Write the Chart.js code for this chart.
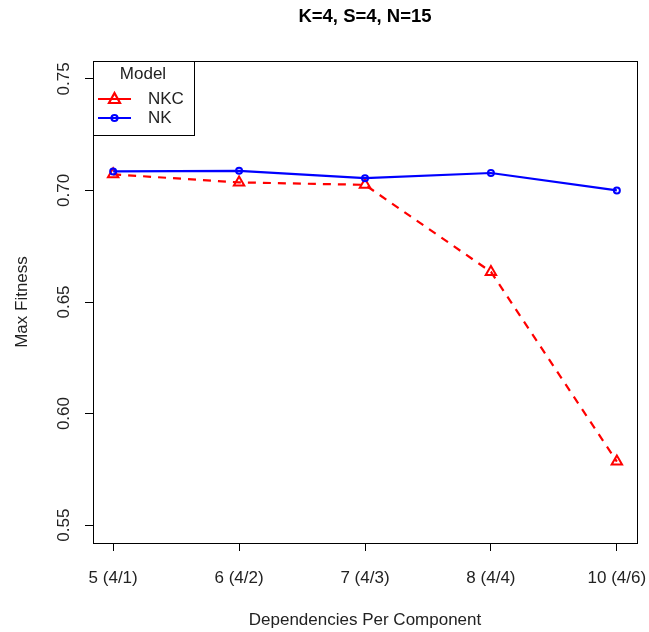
<!DOCTYPE html>
<html>
<head>
<meta charset="utf-8">
<script src="https://cdn.jsdelivr.net/npm/chart.js@4/dist/chart.umd.min.js"></script>
<style>
  html,body{margin:0;padding:0;background:#fff;}
  canvas{display:block;}
</style>
</head>
<body>
<canvas id="chart" width="649" height="632"></canvas>
<script>
// data
const categories = ['5 (4/1)', '6 (4/2)', '7 (4/3)', '8 (4/4)', '10 (4/6)'];
const xPos       = [1, 2, 3, 4, 5];
const nkcFitness = [0.7072, 0.7036, 0.7025, 0.6635, 0.5785];
const nkFitness  = [0.7085, 0.7088, 0.7055, 0.7078, 0.7000];
const yTicks     = [0.55, 0.60, 0.65, 0.70, 0.75];
const titleText  = 'K=4, S=4, N=15';
const xTitle     = 'Dependencies Per Component';
const yTitle     = 'Max Fitness';

const FONT = '"Liberation Sans", Arial, sans-serif';
const pts = arr => arr.map((v,i)=>({x:xPos[i], y:v}));

// R-style decorations: box, title, rotated y labels, legend
const rDecor = {
  id:'rDecor',
  beforeDraw(chart){
    const c=chart.ctx;
    c.save(); c.fillStyle='#fff'; c.fillRect(0,0,chart.width,chart.height); c.restore();
  },
  afterDraw(chart){
    const c=chart.ctx, a=chart.chartArea, ys=chart.scales.y;
    c.save();
    c.strokeStyle='#000'; c.lineWidth=1;
    c.strokeRect(Math.round(a.left)+0.5, Math.round(a.top)+0.5, Math.round(a.right-a.left), Math.round(a.bottom-a.top));

    c.fillStyle='#000';
    c.font='bold 18.5px '+FONT;
    c.textAlign='center'; c.textBaseline='middle';
    c.fillText(titleText,(a.left+a.right)/2,17);

    c.font='17px '+FONT;
    c.fillStyle='#222';
    c.fillText(xTitle,(a.left+a.right)/2,620);
    c.save(); c.translate(22,(a.top+a.bottom)/2); c.rotate(-Math.PI/2); c.fillText(yTitle,0,0); c.restore();

    yTicks.forEach(v=>{
      const py=ys.getPixelForValue(v);
      c.save(); c.translate(64,py); c.rotate(-Math.PI/2); c.fillText(v.toFixed(2),0,0); c.restore();
    });

    // legend
    const lx=Math.round(a.left)+0.5, ly=Math.round(a.top)+0.5;
    c.strokeStyle='#000'; c.lineWidth=1;
    c.strokeRect(lx,ly,101,74);
    c.fillStyle='#222';
    c.fillText('Model',143,74);
    const rows=[{lab:'NKC',col:'#ff0000',y:99,tri:true},{lab:'NK',col:'#0000ff',y:118,tri:false}];
    rows.forEach(r=>{
      c.strokeStyle=r.col; c.lineWidth=2.2;
      c.beginPath(); c.moveTo(98,r.y); c.lineTo(131,r.y); c.stroke();
      c.beginPath();
      if(r.tri){ c.moveTo(114.5,r.y-6); c.lineTo(120,r.y+4); c.lineTo(109,r.y+4); c.closePath(); }
      else { c.arc(114.5,r.y,3,0,Math.PI*2); }
      c.stroke();
      c.fillStyle='#222'; c.textAlign='left';
      c.fillText(r.lab,148,r.y);
      c.textAlign='center';
    });
    c.restore();
  }
};

new Chart(document.getElementById('chart').getContext('2d'),{
  type:'line',
  data:{datasets:[
    {label:'NK', data:pts(nkFitness), borderColor:'#0000ff', borderWidth:2.2,
     pointStyle:'circle', pointRadius:3, pointBorderWidth:2, pointBackgroundColor:'rgba(0,0,0,0)', pointBorderColor:'#0000ff', tension:0},
    {label:'NKC', data:pts(nkcFitness), borderColor:'#ff0000', borderWidth:2.2, borderDash:[8,7],
     pointStyle:'triangle', pointRadius:6, pointBorderWidth:2, pointBackgroundColor:'rgba(0,0,0,0)', pointBorderColor:'#ff0000', tension:0}
  ]},
  options:{
    responsive:false, animation:false, devicePixelRatio:1,
    layout:{padding:{top:61,right:12,left:0,bottom:0}},
    plugins:{legend:{display:false},title:{display:false},tooltip:{enabled:false}},
    scales:{
      x:{type:'linear', min:0.84, max:5.16,
         afterBuildTicks:s=>{ s.ticks=xPos.map(v=>({value:v})); },
         afterFit:s=>{ s.height=89; s.paddingLeft=0; s.paddingRight=0; },
         border:{display:false},
         grid:{drawOnChartArea:false, drawTicks:true, tickLength:8, color:'#000', lineWidth:1},
         ticks:{autoSkip:false, maxRotation:0, minRotation:0, padding:17, color:'#222',
                font:{family:FONT,size:17}, callback:(v)=>categories[xPos.indexOf(v)] ?? ''}},
      y:{type:'linear', min:0.542, max:0.758,
         afterBuildTicks:s=>{ s.ticks=yTicks.map(v=>({value:v})); },
         afterFit:s=>{ s.width=93; s.paddingTop=0; s.paddingBottom=0; },
         border:{display:false},
         grid:{drawOnChartArea:false, drawTicks:true, tickLength:8, color:'#000', lineWidth:1},
         ticks:{display:false}}
    }
  },
  plugins:[rDecor]
});
</script>
</body>
</html>
